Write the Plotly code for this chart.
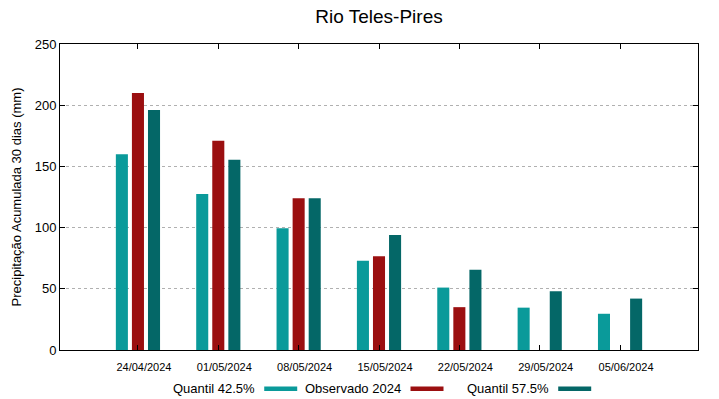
import plotly.graph_objects as go

dates = ["24/04/2024", "01/05/2024", "08/05/2024", "15/05/2024", "22/05/2024", "29/05/2024", "05/06/2024"]
q425 = [160, 127.5, 99.5, 73, 51, 34.6, 29.6]
obs2024 = [210, 171, 124, 76.5, 35, None, None]
q575 = [196, 155.5, 124, 94, 65.6, 48, 42]

names = ["Quantil 42.5%", "Observado 2024", "Quantil 57.5%"]
colors = ["#0a9a9a", "#9b0f10", "#046767"]
series = [q425, obs2024, q575]

FONT = "Liberation Sans"

fig = go.Figure()
for name, vals, col in zip(names, series, colors):
    fig.add_trace(go.Bar(x=dates, y=vals, name=name, marker=dict(color=col, line=dict(width=0)),
                         showlegend=False))

# legend built gnuplot-style: text followed by swatch
legend_text_right = [0.3083, 0.5376, 0.7691]  # paper x of text right edge
for name, col, xr in zip(names, colors, legend_text_right):
    fig.add_annotation(text=name, x=xr, y=-0.1242, xref="paper", yref="paper",
                       xanchor="right", yanchor="middle", showarrow=False,
                       font=dict(size=13, color="#000", family=FONT))
    fig.add_shape(type="rect", xref="paper", yref="paper",
                  x0=xr + 0.0118, x1=xr + 0.0635, y0=-0.134, y1=-0.1193,
                  fillcolor=col, line=dict(width=0))

fig.update_layout(
    width=719, height=399,
    margin=dict(l=60, r=21, t=44, b=49, autoexpand=False),
    paper_bgcolor="white", plot_bgcolor="white",
    barmode="group", bargap=0.4, bargroupgap=0.25,
    font=dict(family=FONT, color="#000"),
    title=dict(text="Rio Teles-Pires", xref="paper", x=0.5, xanchor="center",
               y=0.96, yanchor="middle",
               font=dict(size=19, color="#000", family=FONT)),
)
fig.update_xaxes(type="category", range=[-0.97, 6.97], showline=True, linecolor="#000", linewidth=1,
                 mirror="allticks", ticks="inside", ticklen=5, tickcolor="#000", automargin=False,
                 showgrid=False, tickfont=dict(size=11, color="#000", family=FONT),
                 ticklabelshift=6, ticklabelstandoff=7)
fig.update_yaxes(range=[0, 250], tickvals=[0, 50, 100, 150, 200, 250], showline=True,
                 linecolor="#000", linewidth=1, mirror="allticks", ticks="inside", ticklen=5,
                 tickcolor="#000", showgrid=True, gridcolor="#b0b0b0", griddash="dot", gridwidth=1,
                 zeroline=False, tickfont=dict(size=13, color="#000", family=FONT), automargin=False,
                 title=dict(text="Precipitação Acumulada 30 dias (mm)",
                            font=dict(size=13, color="#000", family=FONT), standoff=10))

# remove the page's default 8px body margin so the figure sits at the window's corner
fig.write_html("out.html", config={"displayModeBar": False},
               post_script="document.body.style.margin='0';")
